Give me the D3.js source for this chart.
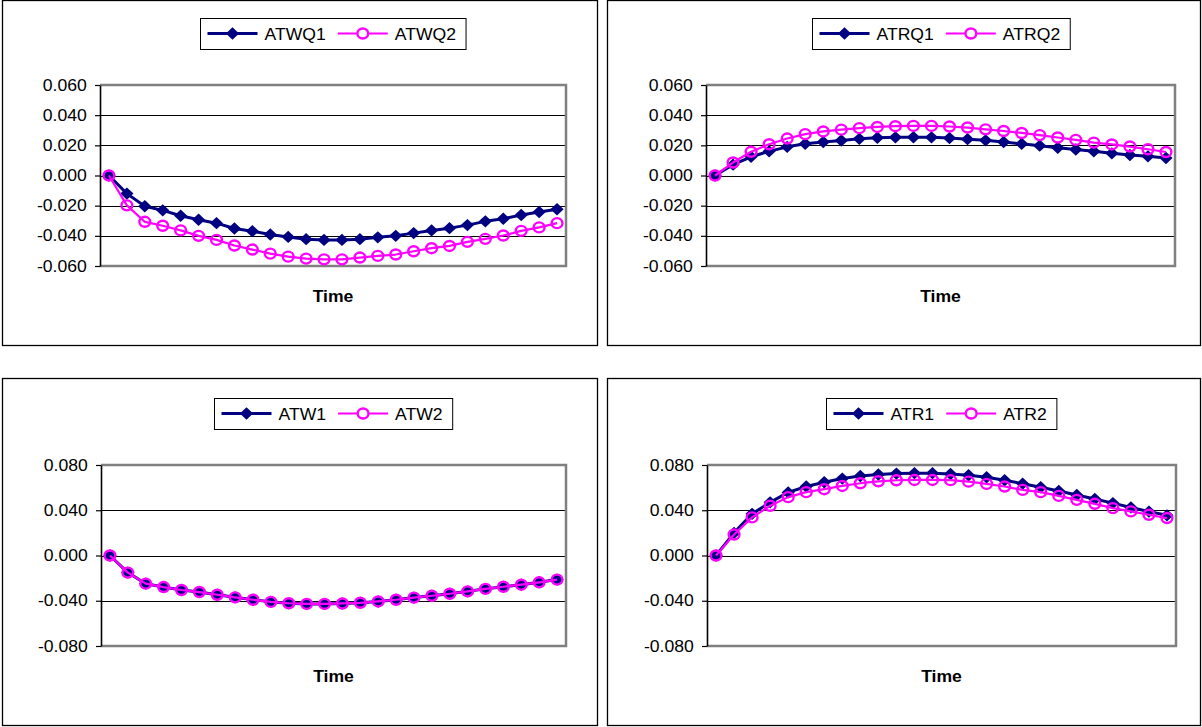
<!DOCTYPE html>
<html><head><meta charset="utf-8">
<script src="https://cdn.jsdelivr.net/npm/d3@7"></script>
<style>html,body{margin:0;padding:0;background:#fff;} svg{display:block;}</style>
</head><body>
<svg id="c" width="1202" height="727"></svg>
<script>
// ---------- data ----------
const timePoints = [1,2,3,4,5,6,7,8,9,10,11,12,13,14,15,16,17,18,19,20,21,22,23,24,25,26];

const ATWQ1 = [0, -0.0120, -0.0204, -0.0231, -0.0267, -0.0293, -0.0316, -0.0351, -0.0369, -0.0391, -0.0407, -0.0422, -0.0427, -0.0427, -0.0422, -0.0410, -0.0400, -0.0382, -0.0364, -0.0349, -0.0329, -0.0304, -0.0287, -0.0262, -0.0242, -0.0224];
const ATWQ2 = [0, -0.0198, -0.0307, -0.0333, -0.0364, -0.0400, -0.0427, -0.0464, -0.0491, -0.0518, -0.0538, -0.0551, -0.0556, -0.0556, -0.0544, -0.0533, -0.0524, -0.0502, -0.0482, -0.0467, -0.0440, -0.0420, -0.0398, -0.0367, -0.0344, -0.0316];

const ATRQ1 = [0, 0.0072, 0.0124, 0.0160, 0.0190, 0.0210, 0.0222, 0.0232, 0.0243, 0.0250, 0.0253, 0.0254, 0.0253, 0.0248, 0.0241, 0.0233, 0.0222, 0.0210, 0.0198, 0.0184, 0.0172, 0.0160, 0.0147, 0.0136, 0.0127, 0.0116];
const ATRQ2 = [0, 0.0086, 0.0157, 0.0207, 0.0245, 0.0274, 0.0292, 0.0304, 0.0314, 0.0322, 0.0327, 0.0329, 0.0329, 0.0325, 0.0318, 0.0306, 0.0295, 0.0282, 0.0268, 0.0252, 0.0236, 0.0218, 0.0206, 0.0192, 0.0174, 0.0156];

const ATW1 = [0, -0.0151, -0.0249, -0.0279, -0.0305, -0.0323, -0.0347, -0.0370, -0.0391, -0.0410, -0.0422, -0.0428, -0.0428, -0.0424, -0.0418, -0.0406, -0.0391, -0.0372, -0.0356, -0.0338, -0.0317, -0.0295, -0.0276, -0.0258, -0.0237, -0.0213];
const ATW2 = [0, -0.0151, -0.0249, -0.0279, -0.0305, -0.0323, -0.0347, -0.0370, -0.0391, -0.0410, -0.0422, -0.0428, -0.0428, -0.0424, -0.0418, -0.0406, -0.0391, -0.0372, -0.0356, -0.0338, -0.0317, -0.0295, -0.0276, -0.0258, -0.0237, -0.0213];

const ATR1 = [0, 0.0200, 0.0368, 0.0470, 0.0558, 0.0610, 0.0648, 0.0680, 0.0703, 0.0716, 0.0724, 0.0728, 0.0728, 0.0720, 0.0710, 0.0692, 0.0665, 0.0635, 0.0603, 0.0570, 0.0535, 0.0500, 0.0463, 0.0425, 0.0388, 0.0355];
const ATR2 = [0, 0.0185, 0.0337, 0.0440, 0.0516, 0.0560, 0.0586, 0.0615, 0.0639, 0.0656, 0.0665, 0.0668, 0.0668, 0.0666, 0.0653, 0.0633, 0.0610, 0.0580, 0.0560, 0.0527, 0.0492, 0.0457, 0.0419, 0.0390, 0.0360, 0.0331];

const ticksTop = [0.06, 0.04, 0.02, 0, -0.02, -0.04, -0.06];
const tickLabelsTop = ["0.060", "0.040", "0.020", "0.000", "-0.020", "-0.040", "-0.060"];
const ticksBottom = [0.08, 0.04, 0, -0.04, -0.08];
const tickLabelsBottom = ["0.080", "0.040", "0.000", "-0.040", "-0.080"];

const xTitle = "Time";

// ---------- layout ----------
const panels = [
  {box:[2.5,0.5,595,345], plot:[100,85,566,266], names:["ATWQ1","ATWQ2"], s1:ATWQ1, s2:ATWQ2, ticks:ticksTop, labels:tickLabelsTop},
  {box:[607.5,0.5,593,345], plot:[706,85,1175,266], names:["ATRQ1","ATRQ2"], s1:ATRQ1, s2:ATRQ2, ticks:ticksTop, labels:tickLabelsTop},
  {box:[2.5,378.5,595,347], plot:[101,465,566,646], names:["ATW1","ATW2"], s1:ATW1, s2:ATW2, ticks:ticksBottom, labels:tickLabelsBottom},
  {box:[607.5,378.5,593,347], plot:[707,465,1176,646], names:["ATR1","ATR2"], s1:ATR1, s2:ATR2, ticks:ticksBottom, labels:tickLabelsBottom}
];

const NAVY = "#000080", MAG = "#FF00FF";
const FONT = "'Liberation Sans', Arial, sans-serif";
const SX = 1.1;

const svg = d3.select("#c");

function diamondPath(cx, cy) {
  const w = 6.6, h = 6.2;
  return `M${cx},${cy-h}L${cx+w},${cy}L${cx},${cy+h}L${cx-w},${cy}Z`;
}

panels.forEach(p => {
  const g = svg.append("g");
  const [bx, by, bw, bh] = p.box;
  g.append("rect").attr("x", bx).attr("y", by).attr("width", bw).attr("height", bh)
    .attr("fill", "#fff").attr("stroke", "#000").attr("stroke-width", 1.3);

  const [L, T, R, B] = p.plot;
  const ext = d3.max(p.ticks);
  const y = d3.scaleLinear().domain([-ext, ext]).range([B, T]);
  const x = d3.scalePoint().domain(timePoints).range([L, R]).padding(0.5);

  // gridlines
  g.append("g").selectAll("line").data(p.ticks).join("line")
    .attr("x1", L).attr("x2", R)
    .attr("y1", d => Math.round(y(d)) + 0.5).attr("y2", d => Math.round(y(d)) + 0.5)
    .attr("stroke", "#000").attr("stroke-width", 1);

  // plot border (grey, top/right/bottom)
  g.append("path").attr("d", `M${L},${T}H${R}V${B}H${L}`)
    .attr("fill", "none").attr("stroke", "#808080").attr("stroke-width", 2.5);

  // y axis
  const ax = g.append("g").attr("transform", `translate(${L},0)`)
    .call(d3.axisLeft(y).tickValues(p.ticks).tickFormat((d, i) => p.labels[i])
      .tickSize(5).tickSizeOuter(0).tickPadding(7));
  ax.select(".domain").attr("stroke", "#000").attr("stroke-width", 1.6);
  ax.selectAll(".tick line").attr("stroke", "#000").attr("stroke-width", 1.2);
  ax.selectAll(".tick text").attr("fill", "#000").attr("font-family", FONT)
    .attr("font-size", 16).attr("transform", `scale(${SX},1)`);

  // x title
  g.append("text").attr("transform", `translate(${(L + R) / 2},${B + 36}) scale(${SX},1)`)
    .attr("text-anchor", "middle").attr("font-family", FONT).attr("font-size", 16)
    .attr("font-weight", "bold").attr("fill", "#000").text(xTitle);

  const line = d3.line().x((d, i) => x(timePoints[i])).y(d => y(d));

  // series 1 (navy, diamonds)
  g.append("path").datum(p.s1).attr("d", line).attr("fill", "none")
    .attr("stroke", NAVY).attr("stroke-width", 3).attr("stroke-linejoin", "round");
  g.append("g").selectAll("path").data(p.s1).join("path")
    .attr("d", (d, i) => diamondPath(x(timePoints[i]), y(d))).attr("fill", NAVY);

  // series 2 (magenta, open circles)
  g.append("path").datum(p.s2).attr("d", line).attr("fill", "none")
    .attr("stroke", MAG).attr("stroke-width", 2.2).attr("stroke-linejoin", "round");
  g.append("g").selectAll("ellipse").data(p.s2).join("ellipse")
    .attr("cx", (d, i) => x(timePoints[i])).attr("cy", d => y(d))
    .attr("rx", 5.4).attr("ry", 5).attr("fill", "none")
    .attr("stroke", MAG).attr("stroke-width", 2.4);

  // legend
  const lg = g.append("g");
  const ly = T - 51.5; // legend vertical centre
  const texts = p.names.map(n => {
    const t = lg.append("text").attr("font-family", FONT).attr("font-size", 16).attr("fill", "#000").text(n);
    return {t, w: t.node().getComputedTextLength() * SX};
  });
  const segLen = 50, padL = 7, gapT = 7, gapE = 12, padR = 10;
  const totalW = padL + segLen + gapT + texts[0].w + gapE + segLen + gapT + texts[1].w + padR;
  const cx = (L + R) / 2;
  const left = Math.round(cx - totalW / 2) + 0.5;
  const boxTop = Math.round(ly - 15.5) + 0.5;
  lg.insert("rect", ":first-child").attr("x", left).attr("y", boxTop).attr("width", totalW).attr("height", 31)
    .attr("fill", "#fff").attr("stroke", "#000").attr("stroke-width", 1);
  let cur = left + padL;
  [0, 1].forEach(k => {
    const color = k === 0 ? NAVY : MAG;
    lg.append("line").attr("x1", cur).attr("x2", cur + segLen).attr("y1", ly).attr("y2", ly)
      .attr("stroke", color).attr("stroke-width", k === 0 ? 3 : 2.2);
    const mx = cur + segLen / 2;
    if (k === 0) {
      lg.append("path").attr("d", diamondPath(mx, ly)).attr("fill", NAVY);
    } else {
      lg.append("ellipse").attr("cx", mx).attr("cy", ly).attr("rx", 5.4).attr("ry", 5)
        .attr("fill", "#fff").attr("stroke", MAG).attr("stroke-width", 2.4);
    }
    texts[k].t.attr("transform", `translate(${cur + segLen + gapT},${ly + 6}) scale(${SX},1)`);
    cur += segLen + gapT + texts[k].w + gapE;
  });
});
</script>
</body></html>
